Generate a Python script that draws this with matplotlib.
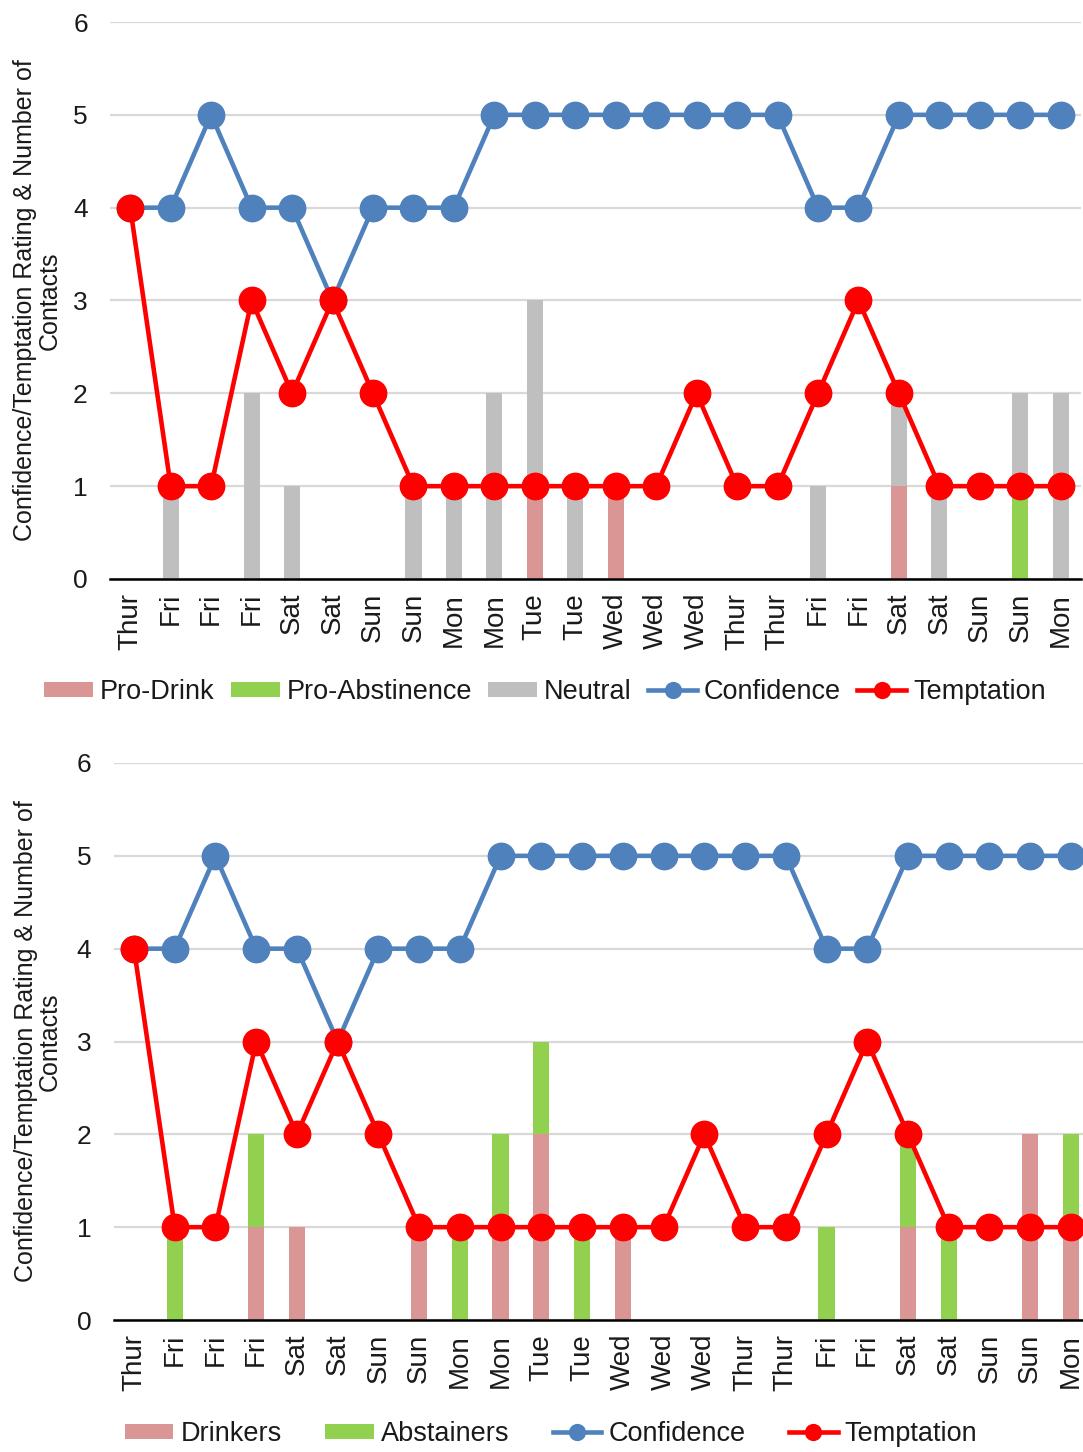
import matplotlib
matplotlib.use("Agg")
import matplotlib.pyplot as plt
import numpy as np

plt.rcParams['font.family'] = ['Liberation Sans', 'DejaVu Sans']

days = ["Thur", "Fri", "Fri", "Fri", "Sat", "Sat", "Sun", "Sun", "Mon", "Mon",
        "Tue", "Tue", "Wed", "Wed", "Wed", "Thur", "Thur", "Fri", "Fri", "Sat",
        "Sat", "Sun", "Sun", "Mon"]

confidence = [4, 4, 5, 4, 4, 3, 4, 4, 4, 5, 5, 5, 5, 5, 5, 5, 5, 4, 4, 5, 5, 5, 5, 5]
temptation = [4, 1, 1, 3, 2, 3, 2, 1, 1, 1, 1, 1, 1, 1, 2, 1, 1, 2, 3, 2, 1, 1, 1, 1]

# Contacts by message type
pro_drink      = [0, 0, 0, 0, 0, 0, 0, 0, 0, 0, 1, 0, 1, 0, 0, 0, 0, 0, 0, 1, 0, 0, 0, 0]
pro_abstinence = [0, 0, 0, 0, 0, 0, 0, 0, 0, 0, 0, 0, 0, 0, 0, 0, 0, 0, 0, 0, 0, 0, 1, 0]
neutral        = [0, 1, 0, 2, 1, 0, 0, 1, 1, 2, 2, 1, 0, 0, 0, 0, 0, 1, 0, 1, 1, 0, 1, 2]

# Contacts by drinking status
drinkers   = [0, 0, 0, 1, 1, 0, 0, 1, 0, 1, 2, 0, 1, 0, 0, 0, 0, 0, 0, 1, 0, 0, 2, 1]
abstainers = [0, 1, 0, 1, 0, 0, 0, 0, 1, 1, 1, 1, 0, 0, 0, 0, 0, 1, 0, 1, 1, 0, 0, 1]

C_DRINK = "#D99694"
C_ABST = "#92D050"
C_NEUT = "#BFBFBF"
C_CONF = "#4F81BD"
C_TEMP = "#FF0000"
C_TEXT = "#1a1a1a"

W, H = 1083, 1452
fig = plt.figure(figsize=(W / 100, H / 100), dpi=100)


def px_axes(left, right, top, bottom):
    return fig.add_axes([left / W, 1 - bottom / H, (right - left) / W, (bottom - top) / H])


def style(ax):
    x = np.arange(len(days))
    ax.set_xlim(-0.5, len(days) - 0.5)
    ax.set_ylim(0, 6)
    ax.set_yticks(range(7))
    ax.yaxis.grid(True, color="#D9D9D9", linewidth=1.6)
    ax.set_axisbelow(True)
    for s in ["top", "right", "left"]:
        ax.spines[s].set_visible(False)
    ax.spines["bottom"].set_linewidth(1.8)
    ax.spines["bottom"].set_color("black")
    ax.spines["bottom"].set_zorder(3)
    ax.set_xticks(x)
    ax.set_xticklabels(days, rotation=90)
    ax.tick_params(axis="y", length=0, labelsize=19, labelcolor=C_TEXT, pad=16)
    ax.tick_params(axis="x", length=0, labelsize=20, labelcolor=C_TEXT, pad=10)
    ax.set_ylabel("Confidence/Temptation Rating & Number of\nContacts",
                  fontsize=18, color=C_TEXT, linespacing=1.0)


def lines(ax):
    x = np.arange(len(days))
    lc, = ax.plot(x, confidence, color=C_CONF, lw=3.3, marker="o", ms=19,
                  label="Confidence", zorder=4)
    lt, = ax.plot(x, temptation, color=C_TEMP, lw=3.3, marker="o", ms=19,
                  label="Temptation", zorder=5)
    return lc, lt


x = np.arange(len(days))
bw = 0.4
leg_kw = dict(loc="center", frameon=False, fontsize=19.5, handlelength=1.8,
              handleheight=0.48, handletextpad=0.26, labelcolor=C_TEXT,
              markerscale=0.6)

# Top panel: contacts by message type
ax1 = px_axes(110, 1081, 22, 579)
b1 = ax1.bar(x, pro_drink, bw, color=C_DRINK, label="Pro-Drink", zorder=2)
b2 = ax1.bar(x, pro_abstinence, bw, bottom=pro_drink, color=C_ABST,
             label="Pro-Abstinence", zorder=2)
base = np.array(pro_drink) + np.array(pro_abstinence)
b3 = ax1.bar(x, neutral, bw, bottom=base, color=C_NEUT, label="Neutral", zorder=2)
lc1, lt1 = lines(ax1)
style(ax1)
ax1.yaxis.set_label_coords(-0.05, 0.5)

fig.legend([b1, b2, b3, lc1, lt1],
           ["Pro-Drink", "Pro-Abstinence", "Neutral", "Confidence", "Temptation"],
           bbox_to_anchor=(545 / W, 1 - 692 / H), ncol=5, columnspacing=0.6,
           **leg_kw)

# Bottom panel: contacts by drinking status
ax2 = px_axes(113.6, 1091.3, 763, 1320)
d1 = ax2.bar(x, drinkers, bw, color=C_DRINK, label="Drinkers", zorder=2)
d2 = ax2.bar(x, abstainers, bw, bottom=drinkers, color=C_ABST,
             label="Abstainers", zorder=2)
lc2, lt2 = lines(ax2)
style(ax2)
ax2.yaxis.set_label_coords(-0.053, 0.5)

fig.legend([d1, d2, lc2, lt2],
           ["Drinkers", "Abstainers", "Confidence", "Temptation"],
           bbox_to_anchor=(551 / W, 1 - 1434 / H), ncol=4, columnspacing=1.6,
           **leg_kw)

fig.savefig("out.png", dpi=100)
